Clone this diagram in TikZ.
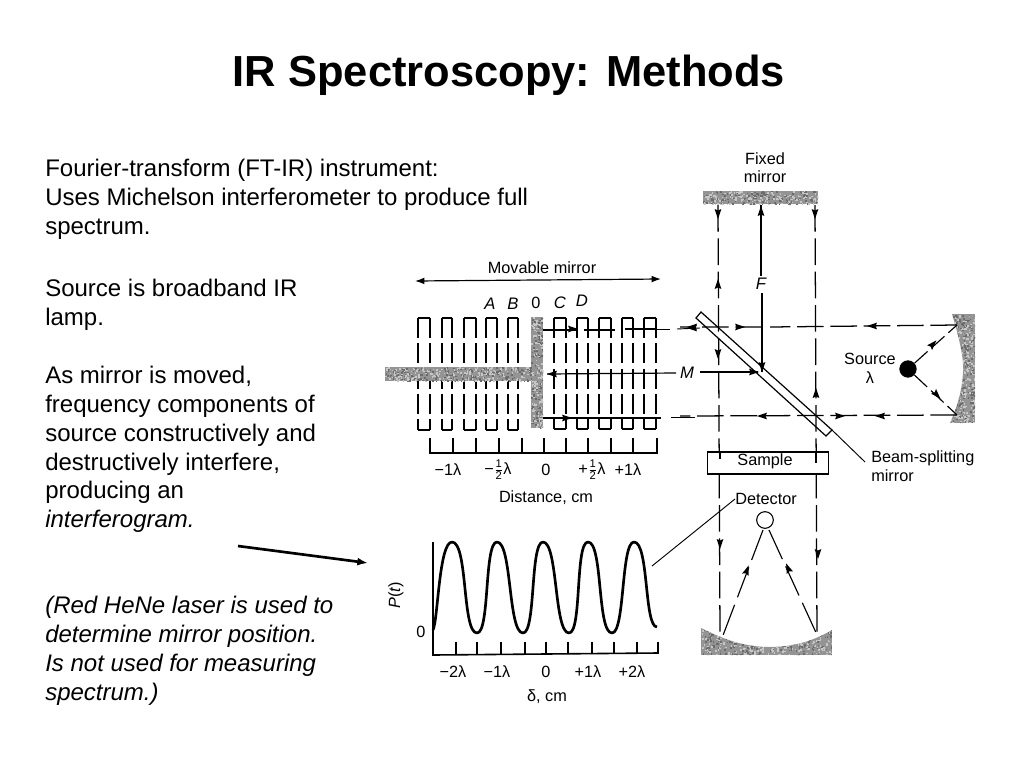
\documentclass[tikz,border=0pt]{standalone}
\usepackage{fontspec}
\setmainfont{Liberation Sans}
\usetikzlibrary{arrows.meta}
\newcommand{\tipat}[3]{\fill[black,shift={(#1,#2)},rotate=#3] (5,0)--(-5,-3.4)--(-3.5,0)--(-5,3.4)--cycle;}
% halftone mottled fill: x0 y0 x1 y1 count, inside current clip
\newcommand{\mottle}[5]{%
  \fill[black!42] (#1,#2) rectangle (#3,#4);
  \foreach \i in {1,...,#5}{%
    \pgfmathsetmacro{\mx}{#1+rnd*(#3-#1)}%
    \pgfmathsetmacro{\my}{#2+rnd*(#4-#2)}%
    \pgfmathsetmacro{\mg}{rnd<0.55?22:58}%
    \fill[black!\mg] (\mx,\my) rectangle ++(1.6,1.6);
  }}
\newcommand{\ohdig}[1]{\hbox{\fontsize{8.4}{9}\selectfont #1}}
\newcommand{\oh}{$\textstyle\frac{\ohdig{1}}{\ohdig{2}}$}
\tikzset{
  body/.style={anchor=north west,align=left,inner sep=0pt,font=\fontsize{18}{21.6}\selectfont},
  lab/.style={inner sep=0pt,font=\fontsize{12.2}{14}\selectfont},
  ital/.style={lab,font=\fontsize{12.5}{14}\selectfont\itshape},
  ray/.style={line width=0.95pt,dash pattern=on 20pt off 5pt},
  side/.style={line width=0.95pt,dash pattern=on 15pt off 4pt},
  capline/.style={line width=1.1pt},
  axisline/.style={line width=1.2pt},
  leader/.style={line width=0.7pt},
}
\begin{document}
\begin{tikzpicture}[x=0.75pt,y=-0.75pt]
\useasboundingbox (0,0) rectangle (1024,768);
\fill[white] (0,0) rectangle (1024,768);
\pgfmathsetseed{4242}

% ---------- slide text
\node[inner sep=0pt,font=\fontsize{32.6}{40}\selectfont\bfseries] (title) at (509,75) {IR Spectroscopy: Methods};
\node[body] (t1) at (45,159) {Fourier-transform (FT-IR) instrument:\\Uses Michelson interferometer to produce full\\spectrum.};
\node[body] (t2) at (45,279) {Source is broadband IR\\lamp.};
\node[body] (t3) at (45,366) {As mirror is moved,\\frequency components of\\source constructively and\\destructively interfere,\\producing an\\\textit{interferogram.}};
\node[body,font=\fontsize{18}{21.6}\selectfont\itshape] (t4) at (45,596) {(Red HeNe laser is used to\\determine mirror position.\\Is not used for measuring\\spectrum.)};
\coordinate (bigA) at (238,546);
\coordinate (bigB) at (368,563);
\draw[line width=2pt,-{Latex[length=8pt,width=6pt]}] (bigA) -- (bigB);

% ---------- movable mirror positions
\foreach \a/\b in {418/430,442/452,464/476,486/497,508/518}{
  \draw[capline] (\a,318) -- (\b,318);
  \draw[capline] (\a,430) -- (\b,430);
  \draw[side] (\a,318) -- (\a,430);
  \draw[side] (\b,318) -- (\b,430);
}
\foreach \a/\b in {554/566,577/588,599/611,622/633,644/656}{
  \draw[capline] (\a,318) -- (\b,318);
  \draw[capline] (\a,429) -- (\b,429);
  \draw[side] (\a,318) -- (\a,429);
  \draw[side] (\b,318) -- (\b,429);
}
% gray beam and central mirror
\begin{scope}
  \clip (531,317) rectangle (543,428);
  \mottle{531}{317}{543}{428}{260}
\end{scope}
\begin{scope}
  \clip (385,367) rectangle (543,381);
  \mottle{385}{367}{543}{381}{420}
\end{scope}

\node[lab] (movlab) at (542,268) {Movable mirror};
\coordinate (movL) at (415,281);
\coordinate (movR) at (661,279);
\draw[line width=0.9pt,{Latex[length=7pt,width=5pt]}-{Latex[length=7pt,width=5pt]}] (movL) -- (movR);
\node[ital] (lA) at (490,304) {A};
\node[ital] (lB) at (513,304) {B};
\node[lab]  (l0) at (536,303) {0};
\node[ital] (lC) at (560,303) {C};
\node[ital] (lD) at (582,301) {D};

% distance axis
\draw[axisline] (430,438) |- (657,453) -- (657,438);
\foreach \x in {453,476,499,522,544,566,588,611,633}{\draw[line width=0.9pt] (\x,438) -- (\x,453);}
\node[lab] (d1) at (448,470) {−1λ};
\node[lab] (d2) at (498,470) {−\oh λ};
\node[lab] (d3) at (546,470) {0};
\node[lab] (d4) at (592,470) {+\oh λ};
\node[lab] (d5) at (628,470) {+1λ};
\node[lab] (dist) at (546,498) {Distance, cm};

% ---------- interferogram
\draw[axisline] (433,542) -- (433,655) -- (658,653);
\foreach \x in {456,477,501,525,546,568,592,614,637,658}{\draw[line width=0.9pt] (\x,642) -- (\x,654);}
\draw[line width=2pt,line join=round] (433,630) .. controls (438,620) and (439,542) .. (452,542)
  .. controls (468,542) and (462,633) .. (477,633)
  .. controls (490,633) and (484,542) .. (497,542)
  .. controls (512,542) and (508,633) .. (523,633)
  .. controls (536,633) and (530,542) .. (543,542)
  .. controls (558,542) and (554,633) .. (569,633)
  .. controls (582,633) and (575,542) .. (588,542)
  .. controls (603,542) and (597,633) .. (612,633)
  .. controls (625,633) and (621,542) .. (634,542)
  .. controls (649,542) and (644,627) .. (657,627);
\node[lab,rotate=90,font=\fontsize{12.2}{14}\selectfont] (pt) at (396,595) {\textit{P}(\textit{t})};
\node[lab] (p0) at (421,632) {0};
\node[lab] (x1) at (453,672) {−2λ};
\node[lab] (x2) at (497,672) {−1λ};
\node[lab] (x3) at (546,672) {0};
\node[lab] (x4) at (588,672) {+1λ};
\node[lab] (x5) at (632,672) {+2λ};
\node[lab] (delta) at (547,697) {δ, cm};

% ---------- mirrors
\begin{scope}
  \clip (703,191) rectangle (818,204);
  \mottle{703}{191}{818}{204}{290}
\end{scope}
\begin{scope}
  \clip (952,314) .. controls (960,340) and (964,360) .. (963,372) .. controls (962,390) and (958,405) .. (950,423) -- (975,423) -- (975,314) -- cycle;
  \mottle{948}{314}{975}{423}{500}
\end{scope}
\begin{scope}
  \clip (701,628) .. controls (725,640) and (745,647) .. (770,647) .. controls (795,647) and (815,640) .. (832,630) -- (832,655) -- (701,655) -- cycle;
  \mottle{701}{628}{832}{655}{500}
\end{scope}

% ---------- labels on the optical path
\node[lab] (fixed) at (765,170) {\begin{tabular}{@{}c@{}}Fixed\\[-0.5pt]mirror\end{tabular}};
\node[ital] (F) at (761,284) {F};
\node[ital] (M) at (687,373) {M};
\node[lab] (src) at (870,370) {\begin{tabular}{@{}c@{}}Source\\[0pt]λ\end{tabular}};
\node[lab,align=left,anchor=west] (bsm) at (871,466) {Beam-splitting\\mirror};
\node[lab] (det) at (766,499) {Detector};

% ---------- rays
\draw[ray] (718,205) -- (720,637);
\draw[ray] (815,205) -- (817,637);
\draw[line width=0.9pt] (761,205) -- (761,276);
\draw[line width=1pt] (762,293) -- (762,372);
\draw[ray] (957,325) -- (770,327) (762,327) -- (680,327);
\draw[ray] (957,415) -- (680,416);
% right part of movable mirror rays
\draw[line width=1pt] (543,330) -- (576,330);
\draw[line width=1pt] (584,330) -- (615,330);
\draw[line width=1pt] (625,329) -- (657,329);
\draw[line width=.7pt] (657,329) -- (670,329);
\draw[line width=.7pt] (677,329) -- (700,328);
\draw[line width=.9pt] (547,374) -- (676,373);
\draw[line width=1.1pt] (700,372) -- (758,372);
\draw[line width=1pt] (543,418) -- (570,418);
\draw[line width=.8pt] (570,418) -- (661,418);
\draw[line width=.7pt] (671,417) -- (695,417);

% beam splitter
\coordinate (bs1) at (696,318);
\coordinate (bs2) at (701,312);
\coordinate (bs3) at (832,430);
\coordinate (bs4) at (826,436);
\draw[line width=0.9pt] (bs1) -- (bs2) -- (bs3) -- (bs4) -- cycle;
\coordinate (bsl) at (865,462);
\draw[leader] (bs3) -- (bsl);

% source & detector
\node[circle,fill=black,minimum size=13pt,inner sep=0pt] (source) at (908,369) {};
\coordinate (mtop) at (957,325);
\coordinate (mbot) at (957,415);
\draw[line width=.85pt,dash pattern=on 13pt off 4pt] (source) -- (mtop);
\draw[line width=.85pt,dash pattern=on 13pt off 4pt] (source) -- (mbot);
\node[circle,draw=black,line width=.8pt,fill=white,minimum size=12.5pt,inner sep=0pt] (detc) at (765,520) {};
\coordinate (dmL) at (722,638);
\coordinate (dmR) at (818,637);
\draw[line width=.85pt,dash pattern=on 24pt off 6pt] (763,530) -- (dmL);
\draw[line width=.85pt,dash pattern=on 24pt off 6pt] (769,530) -- (dmR);
\coordinate (graphpt) at (652,566);
\draw[leader] (det.west) -- (graphpt);

% sample
\node[draw=black,line width=1pt,minimum width=91pt,minimum height=16.5pt,inner sep=0pt,fill=white] (sample) at (768,463) {};
\node[lab] (samplet) at (765,461) {Sample};
\draw[line width=.8pt] (720,452) -- (720,459);
\draw[line width=.8pt] (816,452) -- (816,463);

% ---------- arrowheads
\tipat{718}{214}{-90}
\tipat{718}{284}{90}
\tipat{718}{354}{-90}
\tipat{720}{544}{-90}
\tipat{761}{211}{90}
\tipat{762}{367}{-90}
\tipat{815}{214}{-90}
\tipat{816}{393}{90}
\tipat{818}{554}{-90}
\tipat{692}{327}{180}
\tipat{740}{327}{0}
\tipat{872}{326}{180}
\tipat{762}{416}{180}
\tipat{840}{416}{0}
\tipat{880}{416}{180}
\tipat{754}{372}{0}
\tipat{933}{344}{47}
\tipat{937}{395}{-47}
\tipat{747}{570}{70}
\tipat{788}{568}{112}
\tipat{573}{329}{0}
\tipat{692}{328}{180}
\tipat{552}{374}{180}
\tipat{567}{418}{0}
\end{tikzpicture}
\end{document}
